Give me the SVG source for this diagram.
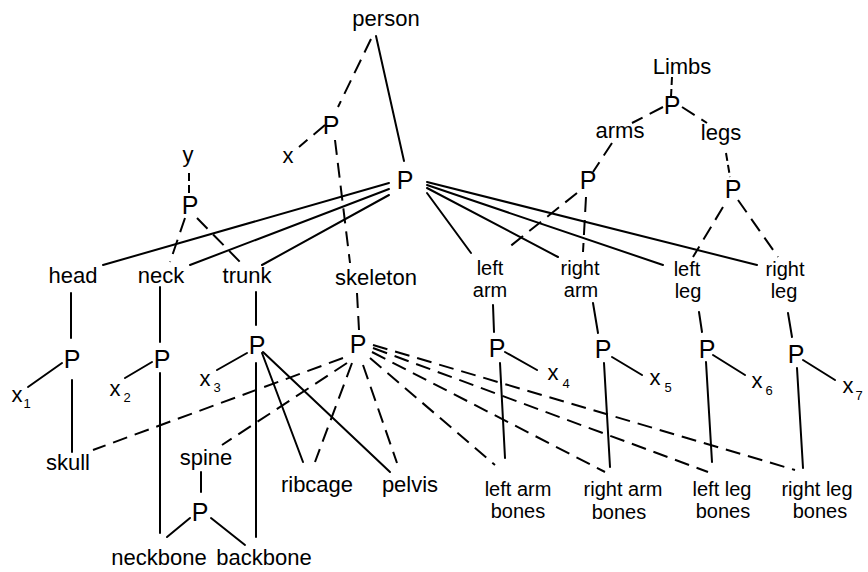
<svg xmlns="http://www.w3.org/2000/svg" width="868" height="572" viewBox="0 0 868 572">
<style>
text{font-family:"Liberation Sans","DejaVu Sans",sans-serif;fill:#000;text-anchor:middle}
.t{font-size:22px}
.w{font-size:20px}
.p{font-size:25px}
.s{font-size:13px}
.c line{stroke:#000;stroke-width:2;stroke-linecap:round}
.c .d{stroke-dasharray:15 8;stroke-linecap:butt}
.c .ds{stroke-dasharray:8 4;stroke-linecap:butt}
</style>
<rect width="868" height="572" fill="#fff"/>
<g class="c" id="connectors">
<line x1="376" y1="36" x2="404" y2="161"/>
<line x1="389" y1="183" x2="103" y2="265"/>
<line x1="389" y1="189" x2="190" y2="265"/>
<line x1="389" y1="195" x2="262" y2="265"/>
<line x1="427" y1="193" x2="471" y2="253"/>
<line x1="427" y1="188" x2="558" y2="257"/>
<line x1="427" y1="185" x2="663" y2="265"/>
<line x1="427" y1="182" x2="757" y2="265"/>
<line x1="71" y1="293" x2="71" y2="338"/>
<line x1="62" y1="363" x2="28" y2="387"/>
<line x1="72" y1="380" x2="72" y2="452"/>
<line x1="160" y1="287" x2="160" y2="342"/>
<line x1="152" y1="362" x2="125" y2="378"/>
<line x1="160" y1="373" x2="160" y2="533"/>
<line x1="256" y1="292" x2="256" y2="325"/>
<line x1="247" y1="353" x2="217" y2="370"/>
<line x1="256" y1="363" x2="256" y2="537"/>
<line x1="262" y1="353" x2="303" y2="462"/>
<line x1="263" y1="352" x2="390" y2="472"/>
<line x1="201" y1="472" x2="201" y2="492"/>
<line x1="190" y1="518" x2="167" y2="537"/>
<line x1="211" y1="518" x2="245" y2="545"/>
<line x1="493" y1="305" x2="494" y2="332"/>
<line x1="505" y1="352" x2="537" y2="370"/>
<line x1="500" y1="363" x2="505" y2="458"/>
<line x1="593" y1="303" x2="598" y2="333"/>
<line x1="612" y1="357" x2="642" y2="375"/>
<line x1="604" y1="363" x2="610" y2="467"/>
<line x1="699" y1="312" x2="702" y2="332"/>
<line x1="713" y1="355" x2="745" y2="375"/>
<line x1="706" y1="362" x2="712" y2="462"/>
<line x1="788" y1="313" x2="792" y2="337"/>
<line x1="803" y1="360" x2="835" y2="380"/>
<line x1="797" y1="368" x2="803" y2="468"/>
<line class="d" x1="371" y1="39" x2="338" y2="107"/>
<line class="d" x1="325" y1="125" x2="299" y2="147"/>
<line class="d" x1="335" y1="140" x2="350" y2="263"/>
<line class="ds" x1="189" y1="173" x2="189" y2="197"/>
<line class="d" x1="185" y1="218" x2="170" y2="262"/>
<line class="d" x1="197" y1="218" x2="243" y2="265"/>
<line class="ds" x1="672" y1="77" x2="671" y2="97"/>
<line class="d" x1="663" y1="107" x2="632" y2="123"/>
<line class="d" x1="682" y1="107" x2="707" y2="123"/>
<line class="d" x1="612" y1="143" x2="593" y2="172"/>
<line class="ds" x1="726" y1="153" x2="730" y2="177"/>
<line class="d" x1="577" y1="193" x2="508" y2="248"/>
<line class="d" x1="586" y1="197" x2="583" y2="252"/>
<line class="d" x1="723" y1="207" x2="693" y2="257"/>
<line class="d" x1="738" y1="200" x2="778" y2="257"/>
<line class="d" x1="357" y1="293" x2="359" y2="330"/>
<line class="d" x1="343" y1="358" x2="93" y2="450"/>
<line class="d" x1="347" y1="363" x2="222" y2="445"/>
<line class="d" x1="352" y1="363" x2="315" y2="462"/>
<line class="d" x1="363" y1="365" x2="397" y2="463"/>
<line class="d" x1="370" y1="358" x2="495" y2="465"/>
<line class="d" x1="372" y1="352" x2="605" y2="472"/>
<line class="d" x1="373" y1="348" x2="708" y2="472"/>
<line class="d" x1="373" y1="345" x2="795" y2="470"/>
</g>
<g id="person"><text class="t" x="386" y="26">person</text></g>
<g id="p-x"><text class="p" x="331" y="134">P</text></g>
<g id="x"><text class="t" x="288" y="163">x</text></g>
<g id="p-main"><text class="p" x="405" y="189">P</text></g>
<g id="y"><text class="t" x="188" y="162">y</text></g>
<g id="p-y"><text class="p" x="190" y="214">P</text></g>
<g id="limbs"><text class="t" x="682" y="74">Limbs</text></g>
<g id="p-limbs"><text class="p" x="672" y="114">P</text></g>
<g id="arms"><text class="t" x="620" y="138">arms</text></g>
<g id="legs"><text class="t" x="721" y="140">legs</text></g>
<g id="p-arms"><text class="p" x="588" y="189">P</text></g>
<g id="p-legs"><text class="p" x="733" y="198">P</text></g>
<g id="head"><text class="t" x="73" y="283">head</text></g>
<g id="neck"><text class="t" x="161" y="283">neck</text></g>
<g id="trunk"><text class="t" x="247" y="283">trunk</text></g>
<g id="skeleton"><text class="t" x="376" y="285">skeleton</text></g>
<g id="left-arm"><text class="w" x="490" y="275">left</text><text class="w" x="490" y="297">arm</text></g>
<g id="right-arm"><text class="w" x="580" y="275">right</text><text class="w" x="581" y="297">arm</text></g>
<g id="left-leg"><text class="w" x="687" y="276">left</text><text class="w" x="688" y="298">leg</text></g>
<g id="right-leg"><text class="w" x="785" y="276">right</text><text class="w" x="784" y="298">leg</text></g>
<g id="p-head"><text class="p" x="72" y="368">P</text></g>
<g id="x1"><text class="t" x="17" y="402">x</text><text class="s" x="27" y="408">1</text></g>
<g id="p-neck"><text class="p" x="162" y="368">P</text></g>
<g id="x2"><text class="t" x="115" y="396">x</text><text class="s" x="127" y="402">2</text></g>
<g id="p-trunk"><text class="p" x="257" y="354">P</text></g>
<g id="x3"><text class="t" x="205" y="386">x</text><text class="s" x="217" y="392">3</text></g>
<g id="p-skeleton"><text class="p" x="358" y="353">P</text></g>
<g id="p-left-arm"><text class="p" x="497" y="357">P</text></g>
<g id="x4"><text class="t" x="553" y="380">x</text><text class="s" x="566" y="388">4</text></g>
<g id="p-right-arm"><text class="p" x="603" y="358">P</text></g>
<g id="x5"><text class="t" x="655" y="385">x</text><text class="s" x="668" y="392">5</text></g>
<g id="p-left-leg"><text class="p" x="707" y="358">P</text></g>
<g id="x6"><text class="t" x="757" y="388">x</text><text class="s" x="769" y="395">6</text></g>
<g id="p-right-leg"><text class="p" x="796" y="363">P</text></g>
<g id="x7"><text class="t" x="848" y="393">x</text><text class="s" x="859" y="400">7</text></g>
<g id="skull"><text class="t" x="68" y="470">skull</text></g>
<g id="spine"><text class="t" x="206" y="465">spine</text></g>
<g id="p-spine"><text class="p" x="200" y="521">P</text></g>
<g id="neckbone"><text class="t" x="159" y="565">neckbone</text></g>
<g id="backbone"><text class="t" x="264" y="565">backbone</text></g>
<g id="ribcage"><text class="t" x="317" y="492">ribcage</text></g>
<g id="pelvis"><text class="t" x="410" y="492">pelvis</text></g>
<g id="left-arm-bones"><text class="w" x="518" y="496">left arm</text><text class="w" x="518" y="518">bones</text></g>
<g id="right-arm-bones"><text class="w" x="623" y="496">right arm</text><text class="w" x="619" y="519">bones</text></g>
<g id="left-leg-bones"><text class="w" x="722" y="496">left leg</text><text class="w" x="723" y="518">bones</text></g>
<g id="right-leg-bones"><text class="w" x="817" y="496">right leg</text><text class="w" x="820" y="518">bones</text></g>
</svg>
